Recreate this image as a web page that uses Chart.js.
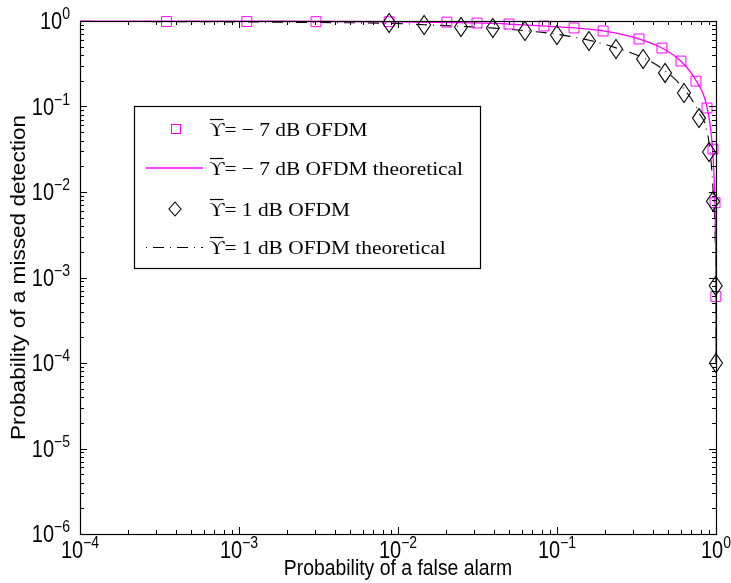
<!DOCTYPE html>
<html><head><meta charset="utf-8">
<script src="https://cdn.jsdelivr.net/npm/chart.js@4/dist/chart.umd.min.js"></script>
<style>html,body{margin:0;padding:0;background:#fff}#wrap{width:731px;height:583px;position:relative}</style>
</head><body><div id="wrap"><canvas id="c" width="731" height="583"></canvas></div>
<script>
// ---- data ----
const xTickValues = [1e-4, 1e-3, 1e-2, 1e-1, 1];
const xTickExps = ['\u22124', '\u22123', '\u22122', '\u22121', '0'];
const yTickValues = [1e-6, 1e-5, 1e-4, 1e-3, 1e-2, 1e-1, 1];
const yTickExps = ['\u22126', '\u22125', '\u22124', '\u22123', '\u22122', '\u22121', '0'];

// Upsilon = -7 dB OFDM (simulated, squares)
const sqPfa = [3.5e-4, 1.12e-3, 3.05e-3, 8.8e-3, 0.0203, 0.0314, 0.0499, 0.0828, 0.128, 0.195, 0.328, 0.457, 0.602, 0.748, 0.878, 0.957, 0.986, 0.998];
const sqPmd = [0.985, 0.985, 0.983, 0.98, 0.97, 0.947, 0.922, 0.874, 0.829, 0.764, 0.616, 0.483, 0.340, 0.198, 0.096, 0.0317, 0.0075, 0.0006];

// Upsilon = -7 dB OFDM theoretical (solid magenta)
const thAPfa = [1e-4, 1e-3, 1e-2, 0.03, 0.05, 0.08, 0.13, 0.2, 0.33, 0.46, 0.6, 0.75, 0.88, 0.95, 0.985, 0.995, 0.999, 0.9997];
const thAPmd = [0.999, 0.995, 0.98, 0.95, 0.92, 0.875, 0.83, 0.76, 0.615, 0.48, 0.34, 0.2, 0.096, 0.032, 0.0075, 0.0025, 0.0006, 0.0001];

// Upsilon = 1 dB OFDM (simulated, diamonds)
const diPfa = [8.8e-3, 0.0146, 0.0249, 0.0395, 0.0629, 0.0999, 0.159, 0.235, 0.348, 0.478, 0.629, 0.782, 0.904, 0.957, 0.996, 0.9995];
const diPmd = [0.947, 0.898, 0.851, 0.828, 0.764, 0.686, 0.584, 0.470, 0.359, 0.247, 0.144, 0.0732, 0.0294, 0.0078, 0.0008, 0.0001];

// Upsilon = 1 dB OFDM theoretical (dash-dot black)
const thBPfa = [1e-4, 1e-3, 3e-3, 8.8e-3, 0.0146, 0.025, 0.04, 0.063, 0.1, 0.16, 0.235, 0.35, 0.48, 0.63, 0.78, 0.9, 0.96, 0.99, 0.998, 0.9997];
const thBPmd = [0.99, 0.975, 0.96, 0.94, 0.905, 0.865, 0.825, 0.77, 0.70, 0.595, 0.485, 0.37, 0.26, 0.16, 0.085, 0.04, 0.01, 0.0025, 0.0006, 0.0001];

const legendLabels = ['= \u2212 7 dB OFDM', '= \u2212 7 dB OFDM theoretical', '= 1 dB OFDM', '= 1 dB OFDM theoretical'];
const legendSymbol = '\u03D2';
const xTitle = 'Probability of a false alarm';
const yTitle = 'Probability of a missed detection';

// ---- drawing ----
const MAG = '#ff00ff';
function pts(xs, ys) { return xs.map((x, i) => ({ x: x, y: ys[i] })); }

function diamondPath(ctx, x, y, hw, hh) {
  ctx.beginPath();
  ctx.moveTo(x, y - hh); ctx.lineTo(x + hw, y); ctx.lineTo(x, y + hh); ctx.lineTo(x - hw, y); ctx.closePath();
  ctx.stroke();
}

function drawText(ctx, txt, x, y, fx, fy, family, align, baseline, rot) {
  ctx.save();
  ctx.translate(x, y);
  if (rot) ctx.rotate(rot);
  if (rot) ctx.scale(fy / fx, 1); else ctx.scale(fx / fy, 1);
  ctx.font = (rot ? fx : fy) + 'px ' + family;
  ctx.textAlign = align; ctx.textBaseline = baseline;
  ctx.fillStyle = '#000';
  ctx.fillText(txt, 0, 0);
  ctx.restore();
}
function textW(ctx, txt, fx, fy, family) {
  ctx.save(); ctx.font = fy + 'px ' + family;
  const w = ctx.measureText(txt).width * fx / fy; ctx.restore(); return w;
}

const SANS = '"Liberation Sans", Arial, sans-serif';
const SERIF = '"Liberation Serif", "DejaVu Serif", serif';

const decor = {
  id: 'decor',
  afterDatasetsDraw(chart) {
    const ctx = chart.ctx, a = chart.chartArea;
    const xs = chart.scales.x, ys = chart.scales.y;
    ctx.save();
    // diamond markers at the positions computed by the library for dataset 3
    ctx.strokeStyle = '#000'; ctx.lineWidth = 1.1;
    chart.getDatasetMeta(3).data.forEach(el => diamondPath(ctx, el.x, el.y, 6.5, 9.5));

    ctx.strokeStyle = '#000'; ctx.lineWidth = 1;
    // ticks (inward, all four sides)
    ctx.beginPath();
    for (let e = -4; e <= 0; e++) {
      for (let m = 1; m <= 9; m++) {
        if (e === 0 && m > 1) break;
        const v = m * Math.pow(10, e);
        const px = Math.round(xs.getPixelForValue(v)) + 0.5;
        const len = m === 1 ? 7 : 4;
        ctx.moveTo(px, a.bottom); ctx.lineTo(px, a.bottom - len);
        ctx.moveTo(px, a.top); ctx.lineTo(px, a.top + len);
      }
    }
    for (let e = -6; e <= 0; e++) {
      for (let m = 1; m <= 9; m++) {
        if (e === 0 && m > 1) break;
        const v = m * Math.pow(10, e);
        const py = Math.round(ys.getPixelForValue(v)) + 0.5;
        const len = m === 1 ? 7 : 4;
        ctx.moveTo(a.left, py); ctx.lineTo(a.left + len, py);
        ctx.moveTo(a.right, py); ctx.lineTo(a.right - len, py);
      }
    }
    ctx.stroke();
    // box
    ctx.lineWidth = 1.2;
    ctx.strokeRect(Math.round(a.left) + 0.5, Math.round(a.top) + 0.5, Math.round(a.right - a.left), Math.round(a.bottom - a.top));

    // tick labels
    const bx = 20, by = 23, ex = 14, ey = 16;
    xTickValues.forEach((v, i) => {
      const px = xs.getPixelForValue(v);
      const w1 = textW(ctx, '10', bx, by, SANS), w2 = textW(ctx, xTickExps[i], ex, ey, SANS);
      const x0 = px - (w1 + w2) / 2;
      drawText(ctx, '10', x0, a.bottom + 24, bx, by, SANS, 'left', 'alphabetic');
      drawText(ctx, xTickExps[i], x0 + w1, a.bottom + 14, ex, ey, SANS, 'left', 'alphabetic');
    });
    yTickValues.forEach((v, i) => {
      const py = ys.getPixelForValue(v);
      const w2 = textW(ctx, yTickExps[i], ex, ey, SANS);
      const xr = a.left - 10;
      drawText(ctx, yTickExps[i], xr, py - 2, ex, ey, SANS, 'right', 'alphabetic');
      drawText(ctx, '10', xr - w2, py + 8, bx, by, SANS, 'right', 'alphabetic');
    });
    // axis titles
    drawText(ctx, xTitle, (a.left + a.right) / 2, a.bottom + 41, 19.4, 22.6, SANS, 'center', 'alphabetic');
    drawText(ctx, yTitle, 25, (a.top + a.bottom) / 2, 19.4, 22.6, SANS, 'center', 'alphabetic', -Math.PI / 2);

    // legend
    const L = { x: 134, y: 106, w: 346, h: 162 };
    ctx.fillStyle = '#fff';
    ctx.fillRect(L.x, L.y, L.w, L.h);
    ctx.lineWidth = 1.2; ctx.strokeStyle = '#000';
    ctx.strokeRect(L.x + 0.5, L.y + 0.5, L.w, L.h);
    const rowsY = [129, 168, 209, 247];
    const tx = 209;
    const fy = 19;
    const fx = 19 * 254 / (textW(ctx, legendSymbol + legendLabels[1], 19, 19, SERIF));
    rowsY.forEach((ry, i) => {
      if (i === 0) {
        ctx.strokeStyle = MAG; ctx.lineWidth = 1;
        ctx.strokeRect(171.5, ry - 4.5, 9, 9);
      } else if (i === 1) {
        ctx.strokeStyle = MAG; ctx.lineWidth = 1.3;
        ctx.beginPath(); ctx.moveTo(146, ry); ctx.lineTo(203, ry); ctx.stroke();
      } else if (i === 2) {
        ctx.strokeStyle = '#000'; ctx.lineWidth = 1.1;
        diamondPath(ctx, 175, ry, 6, 7);
      } else {
        ctx.strokeStyle = '#000'; ctx.lineWidth = 1;
        ctx.setLineDash([1, 6, 11, 6]);
        ctx.beginPath(); ctx.moveTo(146, ry + 0.5); ctx.lineTo(203, ry + 0.5); ctx.stroke();
        ctx.setLineDash([]);
      }
      const baseY = ry + 7;
      const wU = textW(ctx, legendSymbol, fx, fy, SERIF);
      drawText(ctx, legendSymbol, tx, baseY, fx, fy, SERIF, 'left', 'alphabetic');
      ctx.strokeStyle = '#000'; ctx.lineWidth = 1.2;
      ctx.beginPath(); ctx.moveTo(tx + 1, baseY - 16.5); ctx.lineTo(tx + wU - 1, baseY - 16.5); ctx.stroke();
      drawText(ctx, legendLabels[i], tx + wU, baseY, fx, fy, SERIF, 'left', 'alphabetic');
    });
    ctx.restore();
  }
};

new Chart(document.getElementById('c'), {
  type: 'line',
  data: {
    datasets: [
      { label: 'th -7', data: pts(thAPfa, thAPmd), borderColor: MAG, borderWidth: 1.3, pointRadius: 0, cubicInterpolationMode: 'monotone', fill: false, clip: false, order: 2 },
      { label: 'th 1', data: pts(thBPfa, thBPmd), borderColor: '#000', borderWidth: 1.1, borderDash: [11, 6, 1, 6], pointRadius: 0, cubicInterpolationMode: 'monotone', fill: false, clip: false, order: 3 },
      { label: 'sim -7', data: pts(sqPfa, sqPmd), showLine: false, pointStyle: 'rect', pointRadius: 7, pointBorderColor: MAG, pointBackgroundColor: 'rgba(0,0,0,0)', pointBorderWidth: 1, clip: false, order: 1 },
      { label: 'sim 1', data: pts(diPfa, diPmd), showLine: false, pointRadius: 0, pointHoverRadius: 0, clip: false, order: 0 }
    ]
  },
  options: {
    responsive: false, animation: false, devicePixelRatio: 1,
    layout: { padding: { left: 80, right: 15, top: 21, bottom: 49 } },
    scales: {
      x: { type: 'logarithmic', min: 1e-4, max: 1, display: false },
      y: { type: 'logarithmic', min: 1e-6, max: 1, display: false }
    },
    plugins: { legend: { display: false }, tooltip: { enabled: false } }
  },
  plugins: [decor]
});
</script>
</body></html>
